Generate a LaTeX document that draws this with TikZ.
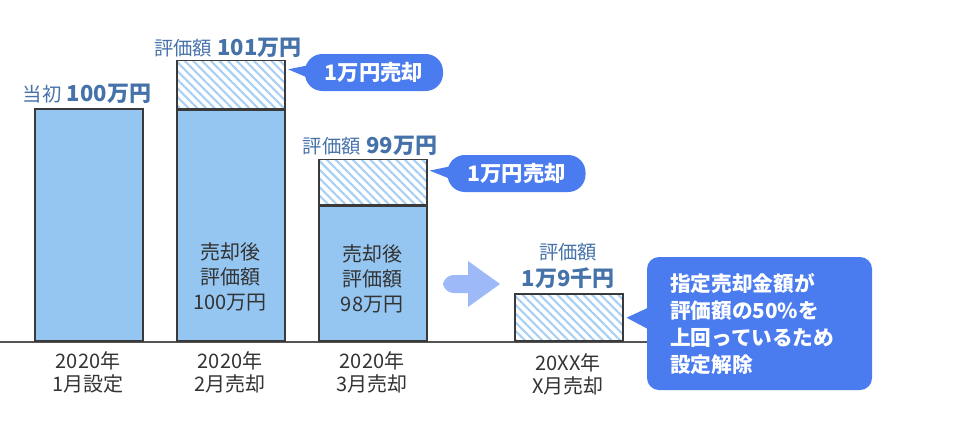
\documentclass[tikz,border=0pt]{standalone}
\usepackage{fontspec}
\setmainfont{Noto Sans CJK JP}
\usetikzlibrary{patterns.meta,calc}
\definecolor{barfill}{HTML}{95C6F2}
\definecolor{hatchc}{HTML}{A9D0F3}
\definecolor{edgec}{HTML}{3A3A3A}
\definecolor{linec}{HTML}{555555}
\definecolor{callc}{HTML}{4A7BEF}
\definecolor{arrowc}{HTML}{9DB9F7}
\definecolor{labc}{HTML}{4672AA}
\definecolor{txtc}{HTML}{333333}
\newcommand\bnumfont{\bfseries\fontsize{16.5}{20}\selectfont}
\begin{document}
\begin{tikzpicture}[x=0.75pt,y=-0.75pt,
  barbox/.style={draw=edgec, line width=1.2pt, fill=barfill, minimum width=108*0.75pt, inner sep=0pt, anchor=south west},
  hatchbox/.style={draw=edgec, line width=1.2pt, pattern={Lines[angle=-45,distance=4.6pt,line width=1.6pt]}, pattern color=hatchc, minimum width=108*0.75pt, inner sep=0pt, anchor=south west},
  toplab/.style={text=labc, inner sep=0pt, font=\fontsize{14.5}{20}\selectfont},
  botlab/.style={text=txtc, align=center, inner sep=0pt, font=\fontsize{15}{17.25}\selectfont},
  intext/.style={text=txtc, align=center, inner sep=0pt, font=\fontsize{15}{18.5}\selectfont},
  callsmall/.style={fill=callc, text=white, font=\bfseries\fontsize{16}{18}\selectfont, rounded corners=13pt, minimum width=138*0.75pt, minimum height=37*0.75pt, inner sep=0pt},
  callbig/.style={fill=callc, text=white, font=\bfseries\fontsize{15.5}{20.25}\selectfont, rounded corners=9pt, minimum height=133*0.75pt, text width=134.25pt, inner xsep=17.25pt, inner ysep=0pt, align=left},
  baseline/.style={draw=linec, line width=1.1pt}
]
\useasboundingbox (0,0) rectangle (962,440);

% big callout first (for baseline end)
\node[callbig] (c3) at (759.5,323.5) {指定売却金額が\\評価額の50\%を\\上回っているため\\設定解除};

% baseline
\coordinate (L) at (0,342);
\draw[baseline] (L) -- (L -| c3.west);

% bars
\node[barbox, minimum height=232*0.75pt] (b1) at (34,342) {};
\node[barbox, minimum height=231*0.75pt] (b2) at (176,342) {};
\node[hatchbox, minimum height=48*0.75pt] (h2) at (b2.north west) {};
\node[barbox, minimum height=135*0.75pt] (b3) at (318,342) {};
\node[hatchbox, minimum height=45*0.75pt] (h3) at (b3.north west) {};
\node[hatchbox, minimum height=47*0.75pt] (h4) at (514,342) {};

% top labels
\node[toplab] (t1) at (87,94) {当初\hspace{4pt}{\bnumfont 100万円}};
\node[toplab] (t2) at (228,48) {評価額\hspace{4pt}{\bnumfont 101万円}};
\node[toplab] (t3) at (370,146) {評価額\hspace{4pt}{\bnumfont 99万円}};
\node[toplab, align=center] (t4) at (568,266) {評価額\\{\bnumfont 1万9千円}};

% text inside bars
\node[intext] (i2) at (230,277) {売却後\\評価額\\100万円};
\node[intext] (i3) at (372,279) {売却後\\評価額\\98万円};

% bottom labels
\node[botlab] (d1) at (88,372) {2020年\\1月設定};
\node[botlab] (d2) at (230,372) {2020年\\2月売却};
\node[botlab] (d3) at (372,372) {2020年\\3月売却};
\node[botlab] (d4) at (568,374) {20XX年\\X月売却};

% small callouts
\node[callsmall] (c1) at (374,72.5) {1万円売却};
\node[callsmall] (c2) at (516.5,173.5) {1万円売却};
\coordinate (p1) at ($(h2.east)+(2,-15)$);
\coordinate (p2) at ($(h3.east)+(2,-11.5)$);
\coordinate (p3) at ($(h4.east)+(3,0)$);
\fill[callc] ($(c1.west)+(12,-9)$) -- (p1) -- ($(c1.west)+(12,9)$) -- cycle;
\fill[callc] ($(c2.west)+(12,-9)$) -- (p2) -- ($(c2.west)+(12,9)$) -- cycle;
\fill[callc] ($(c3.west)+(4,-17)$) -- (p3) -- ($(c3.west)+(4,7)$) -- cycle;

% block arrow
\fill[arrowc] (468,275) [rounded corners=8pt] -- (443,275) -- (443,293) [sharp corners] -- (468,293) -- (468,307) -- (500,284) -- (468,261) -- cycle;
\end{tikzpicture}
\end{document}
